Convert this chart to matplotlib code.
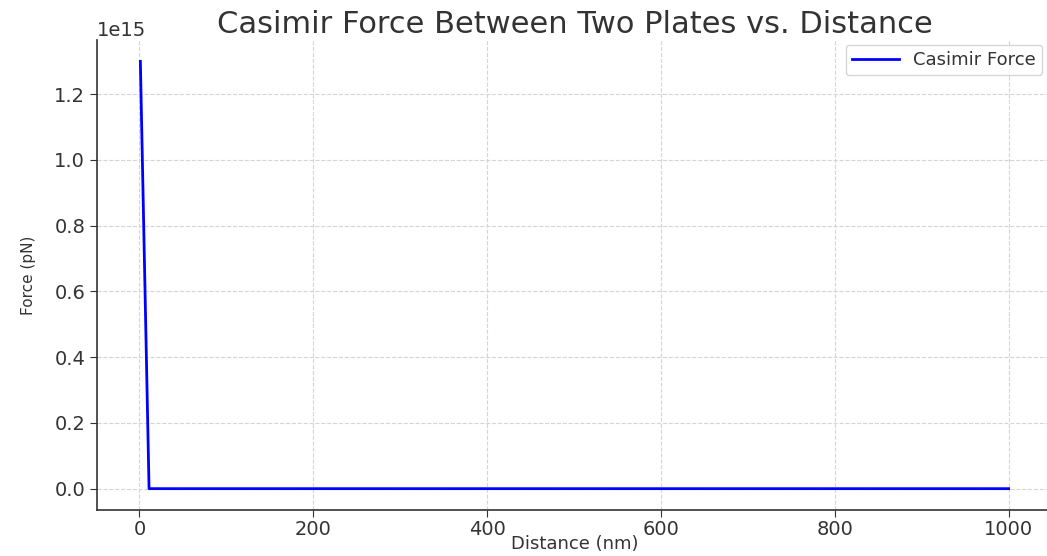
import matplotlib
matplotlib.use('Agg')
import matplotlib.pyplot as plt
import numpy as np

# distance between plates (nm) and force (pN)
distance = [1, 11, 21, 31, 51, 101, 201, 401, 601, 801, 1000]
force = [1.30e15, 8.9e10, 6.7e9, 1.4e9, 1.9e8, 1.3e7, 8.0e5, 5.0e4, 1.0e4, 3.2e3, 1.3e3]

plt.rcParams['font.family'] = 'DejaVu Sans'
text_col = '#333333'

fig = plt.figure(figsize=(10.47, 5.56), dpi=100)
ax = fig.add_axes([0.0926, 0.0827, 0.9122, 0.8453])

ax.plot(distance, force, color='blue', linewidth=2, label='Casimir Force')

ax.set_title('Casimir Force Between Two Plates vs. Distance', fontsize=22, color=text_col, pad=5)
ax.set_xlabel('Distance (nm)', fontsize=13, color=text_col, labelpad=-3)
ax.set_ylabel('Force (pN)', fontsize=11, color=text_col, labelpad=13)

ax.set_xticks([0, 200, 400, 600, 800, 1000])
ax.set_yticks([0.0, 0.2e15, 0.4e15, 0.6e15, 0.8e15, 1.0e15, 1.2e15])
ax.tick_params(labelsize=14, colors=text_col, length=5)
ax.tick_params(axis='x', pad=2)
ax.yaxis.get_offset_text().set_fontsize(14)
ax.yaxis.get_offset_text().set_color(text_col)

ax.grid(True, linestyle='--', color='#d5d5d5', linewidth=0.8)
ax.spines['top'].set_visible(False)
ax.spines['right'].set_visible(False)
for s in ['left', 'bottom']:
    ax.spines[s].set_color(text_col)
    ax.spines[s].set_linewidth(1.2)

leg = ax.legend(loc='upper right', bbox_to_anchor=(0.99, 0.99), borderaxespad=0,
                fontsize=13, handlelength=2.6, borderpad=0.35)
for t in leg.get_texts():
    t.set_color(text_col)

plt.savefig('out.png', dpi=100)
